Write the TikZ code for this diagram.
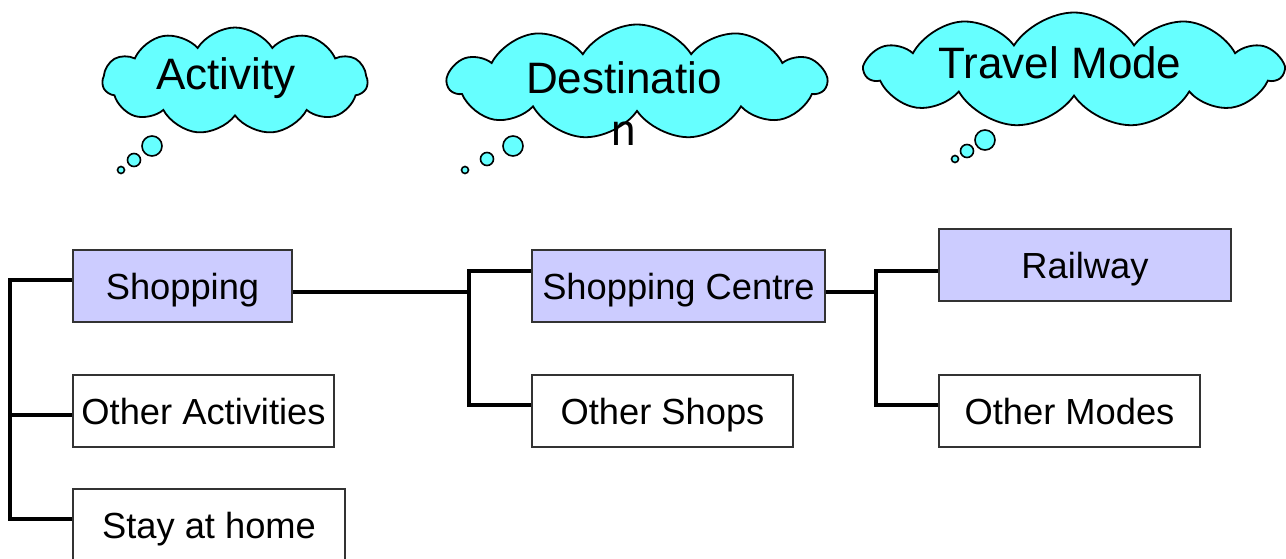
\documentclass[tikz,border=0pt]{standalone}
\usepackage{fontspec}
\setmainfont{Liberation Sans}
\usepackage{xcolor}
\usepackage{tikz}
\usetikzlibrary{shapes.symbols}

\definecolor{thinkcyan}{HTML}{66FFFF}
\definecolor{pickblue}{HTML}{CCCCFF}

\tikzset{
    choice/.style={draw=black!80, line width=1.8pt, fill=white,
        minimum height=72, inner sep=0pt, text height=26pt, text depth=0pt,
        font=\fontsize{36.3}{40}\selectfont},
    picked/.style={choice, fill=pickblue},
    thought/.style={cloud, cloud puffs=11, cloud puff arc=115, aspect=2.6,
        draw, line width=1.8pt, fill=thinkcyan, inner sep=0pt},
    bubble/.style={draw, line width=1.6pt, fill=thinkcyan},
    thoughttext/.style={font=\fontsize{44}{52}\selectfont, align=center},
    oneline/.style={text height=31.5pt, text depth=0pt},
    branch/.style={line width=3.2pt}
}

\begin{document}
\begin{tikzpicture}[x=1pt,y=-1pt]
        \useasboundingbox (0,0) rectangle (1286,559);

        % thought clouds
        \node[thought, minimum width=265, minimum height=107] (actcloud) at (235,81) {};
        \node[thought, minimum width=378, minimum height=115] (destcloud) at (637,82) {};
        \node[thought, minimum width=417, minimum height=115] (modecloud) at (1074,70) {};

        % little bubbles under the clouds
        \draw[bubble] (152,146) circle (10);
        \draw[bubble] (134,160) circle (6.5);
        \draw[bubble] (121,170) circle (3.5);
        \draw[bubble] (513,146) circle (10);
        \draw[bubble] (487,159) circle (6.5);
        \draw[bubble] (465,170) circle (3.5);
        \draw[bubble] (985,140) circle (10);
        \draw[bubble] (967,151) circle (6.5);
        \draw[bubble] (955,159) circle (3.5);

        % cloud captions
        \node[thoughttext, oneline] (acttext) at (226,74) {Activity};
        \node[thoughttext] (desttext) at (624,104) {Destinatio\\n};
        \node[thoughttext, oneline] (modetext) at (1060,63) {Travel Mode};

        % activity choices
        \node[picked, minimum width=219] (shop) at (182.5,286) {Shopping};
        \node[choice, minimum width=261] (otheract) at (203.5,411) {Other Activities};
        \node[choice, minimum width=272] (home) at (209,525) {Stay at home};

        % destination choices
        \node[picked, minimum width=293] (centre) at (678.5,286) {Shopping Centre};
        \node[choice, minimum width=261] (othershop) at (662.5,411) {Other Shops};

        % mode choices
        \node[picked, minimum width=292] (rail) at (1085,265) {Railway};
        \node[choice, minimum width=261] (othermode) at (1069.5,411) {Other Modes};

        % where the lines meet the boxes (not quite centred)
        \coordinate (shopin) at ([yshift=6]shop.west);
        \coordinate (otheractin) at ([yshift=-4]otheract.west);
        \coordinate (homein) at ([yshift=6]home.west);
        \coordinate (shopout) at ([yshift=-6]shop.east);
        \coordinate (centrein) at ([yshift=15]centre.west);
        \coordinate (othershopin) at ([yshift=6]othershop.west);
        \coordinate (centreout) at ([yshift=-6]centre.east);
        \coordinate (railin) at ([yshift=-6]rail.west);
        \coordinate (othermodein) at ([yshift=6]othermode.west);

        % junction points of the brackets
        \coordinate (actfork) at (10,0);
        \coordinate (destfork) at (469,0);
        \coordinate (modefork) at (876,0);

        % brackets
        \draw[branch] (shopin) -| (actfork |- homein) -- (homein);
        \draw[branch] (actfork |- otheractin) -- (otheractin);

        \draw[branch] (shopout) -- (destfork |- shopout);
        \draw[branch] (centrein) -| (destfork |- othershopin) -- (othershopin);

        \draw[branch] (centreout) -- (modefork |- centreout);
        \draw[branch] (railin) -| (modefork |- othermodein) -- (othermodein);

    \end{tikzpicture}
\end{document}
